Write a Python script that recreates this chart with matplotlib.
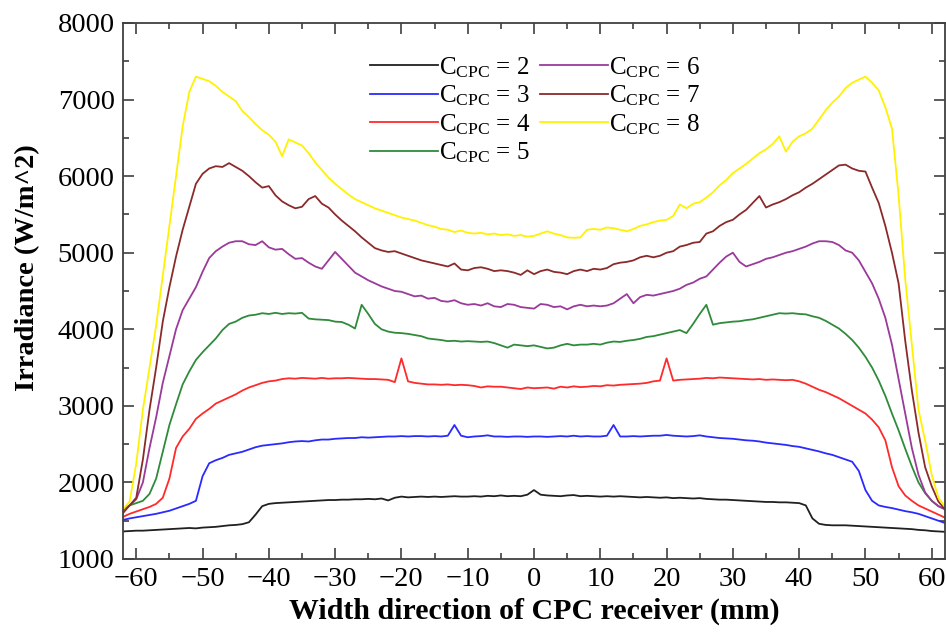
import numpy as np
import matplotlib
matplotlib.use("Agg")
import matplotlib.pyplot as plt
from matplotlib.ticker import MultipleLocator

plt.rcParams['font.family'] = ['Liberation Serif', 'DejaVu Serif']
plt.rcParams['mathtext.fontset'] = 'custom'
plt.rcParams['mathtext.rm'] = 'Liberation Serif'
plt.rcParams['mathtext.it'] = 'Liberation Serif:italic'
plt.rcParams['mathtext.bf'] = 'Liberation Serif:bold'

# width position (mm), 1 mm steps from -62 to 62
x_mm = list(range(-62, 63))

c2 = [1360,1365,1370,1370,1375,1380,1385,1390,1395,1400,
      1405,1400,1410,1415,1420,1430,1440,1445,1455,1480,
      1580,1690,1720,1730,1735,1740,1745,1750,1755,1760,
      1765,1770,1770,1775,1775,1780,1780,1785,1780,1790,
      1765,1800,1815,1805,1810,1815,1810,1815,1810,1815,
      1820,1815,1815,1820,1815,1825,1820,1830,1820,1825,
      1820,1840,1900,1840,1830,1825,1820,1830,1835,1820,
      1825,1820,1815,1820,1815,1820,1815,1810,1805,1810,
      1805,1800,1805,1795,1800,1795,1790,1795,1785,1780,
      1775,1775,1770,1765,1760,1755,1750,1745,1745,1740,
      1740,1735,1730,1700,1530,1460,1445,1440,1440,1440,
      1435,1430,1425,1420,1415,1410,1405,1400,1395,1390,
      1380,1375,1365,1360,1355]

c3 = [1510,1530,1545,1560,1575,1590,1610,1630,1660,1690,
      1720,1760,2080,2250,2290,2320,2360,2380,2400,2430,
      2460,2480,2490,2500,2510,2525,2535,2540,2535,2550,
      2560,2560,2570,2575,2580,2580,2590,2585,2590,2595,
      2600,2600,2605,2600,2605,2605,2600,2605,2600,2610,
      2750,2610,2590,2600,2605,2615,2600,2600,2595,2600,
      2600,2595,2600,2600,2595,2600,2605,2600,2610,2600,
      2605,2600,2600,2610,2750,2600,2600,2605,2600,2605,
      2610,2610,2620,2610,2605,2600,2605,2615,2600,2590,
      2580,2575,2570,2560,2550,2545,2535,2520,2510,2500,
      2490,2475,2465,2445,2425,2405,2380,2360,2330,2300,
      2270,2150,1900,1760,1700,1680,1665,1645,1625,1610,
      1590,1560,1530,1500,1470]

c4 = [1550,1590,1620,1650,1680,1720,1800,2050,2450,2600,
      2700,2830,2900,2960,3030,3070,3110,3150,3200,3240,
      3270,3300,3320,3330,3350,3360,3355,3365,3360,3355,
      3365,3355,3360,3360,3365,3360,3355,3350,3350,3345,
      3340,3310,3620,3320,3300,3290,3280,3280,3275,3280,
      3270,3275,3270,3260,3240,3255,3250,3250,3240,3230,
      3220,3240,3230,3235,3240,3225,3250,3240,3255,3245,
      3250,3260,3255,3270,3265,3275,3280,3285,3290,3300,
      3320,3330,3620,3330,3340,3345,3350,3355,3365,3360,
      3370,3365,3360,3355,3350,3345,3350,3340,3345,3340,
      3335,3340,3320,3290,3250,3210,3180,3140,3100,3050,
      3000,2950,2900,2820,2720,2550,2200,1950,1830,1760,
      1700,1660,1620,1580,1540]

c5 = [1640,1700,1730,1760,1850,2050,2400,2750,3020,3280,
      3450,3600,3700,3790,3880,3990,4070,4100,4150,4180,
      4190,4210,4200,4215,4200,4210,4205,4215,4140,4130,
      4125,4120,4100,4095,4060,4010,4320,4200,4070,4000,
      3970,3955,3950,3940,3925,3910,3880,3870,3860,3845,
      3850,3840,3845,3840,3835,3840,3820,3790,3760,3800,
      3790,3780,3790,3770,3750,3760,3790,3810,3790,3800,
      3800,3810,3800,3825,3840,3835,3850,3860,3875,3900,
      3910,3930,3950,3970,3990,3950,4070,4200,4320,4060,
      4080,4090,4100,4105,4120,4130,4150,4170,4190,4210,
      4205,4210,4200,4195,4170,4150,4110,4060,4010,3940,
      3860,3760,3640,3500,3330,3130,2900,2680,2440,2210,
      2000,1860,1760,1690,1650]

c6 = [1640,1700,1780,2000,2450,2850,3300,3650,4000,4250,
      4400,4550,4750,4930,5020,5080,5130,5150,5150,5110,
      5100,5150,5070,5040,5050,4980,4920,4930,4870,4820,
      4790,4900,5010,4920,4830,4740,4690,4640,4600,4560,
      4530,4500,4490,4460,4430,4440,4400,4410,4370,4360,
      4380,4340,4320,4330,4310,4340,4300,4290,4330,4320,
      4290,4280,4270,4330,4320,4290,4300,4260,4300,4320,
      4300,4310,4300,4310,4340,4400,4460,4340,4420,4450,
      4440,4460,4480,4500,4530,4580,4610,4660,4690,4780,
      4870,4950,5000,4880,4820,4850,4880,4920,4940,4970,
      5000,5020,5050,5080,5120,5150,5150,5140,5100,5030,
      5000,4900,4750,4600,4400,4150,3800,3350,2900,2450,
      2100,1870,1760,1690,1650]

c7 = [1600,1700,1800,2300,2950,3500,4100,4550,4950,5300,
      5600,5900,6030,6100,6130,6120,6170,6120,6070,6000,
      5920,5850,5870,5750,5670,5620,5580,5600,5700,5740,
      5640,5590,5500,5420,5350,5280,5200,5130,5060,5030,
      5010,5020,4990,4960,4930,4900,4880,4860,4840,4820,
      4860,4780,4770,4800,4810,4790,4760,4770,4760,4740,
      4710,4770,4720,4760,4780,4750,4740,4720,4760,4780,
      4760,4790,4780,4800,4850,4870,4880,4900,4940,4960,
      4940,4960,5000,5020,5080,5100,5130,5140,5250,5280,
      5350,5400,5430,5500,5560,5650,5740,5590,5630,5660,
      5700,5750,5790,5850,5900,5960,6020,6080,6140,6150,
      6100,6070,6060,5850,5650,5350,5000,4600,3850,3200,
      2650,2200,1950,1750,1650]

c8 = [1650,1750,2250,2950,3500,4050,4700,5350,6000,6650,
      7100,7300,7270,7240,7180,7100,7040,6980,6850,6770,
      6680,6600,6540,6450,6260,6480,6440,6400,6300,6180,
      6080,5980,5900,5830,5760,5700,5660,5620,5580,5550,
      5520,5490,5460,5440,5420,5390,5360,5340,5310,5300,
      5270,5290,5260,5250,5260,5240,5250,5230,5240,5220,
      5230,5210,5220,5250,5280,5250,5230,5200,5195,5200,
      5300,5310,5300,5330,5320,5300,5280,5310,5350,5370,
      5400,5420,5430,5480,5630,5580,5640,5660,5720,5790,
      5880,5950,6040,6100,6160,6230,6300,6350,6420,6520,
      6320,6450,6520,6560,6620,6740,6860,6960,7040,7150,
      7220,7260,7300,7220,7120,6900,6620,5750,4650,3800,
      2950,2550,2100,1800,1680]

series = [c2, c3, c4, c5, c6, c7, c8]
labels = [r'$\mathrm{C_{CPC}}$ = %d' % k for k in range(2, 9)]
colors = ['#202020', '#2a2aff', '#ff2a2a', '#2e8b3a', '#9a3a9a', '#8b2a2a', '#fff200']

fig = plt.figure(figsize=(9.46, 6.35), dpi=100)
ax = fig.add_axes([123/946, (635-559)/635, (945-123)/946, (559-23)/635])

handles = []
for y, c, lab in zip(series, colors, labels):
    h, = ax.plot(x_mm, y, color=c, lw=1.3, label=lab)
    handles.append(h)

ax.set_xlim(-62, 62)
ax.set_ylim(1000, 8000)
ax.xaxis.set_major_locator(MultipleLocator(10))
ax.xaxis.set_minor_locator(MultipleLocator(5))
ax.yaxis.set_major_locator(MultipleLocator(1000))
ax.yaxis.set_minor_locator(MultipleLocator(500))
ax.tick_params(which='both', direction='in', top=True, right=True,
               color='#404040', width=1.2)
ax.tick_params(which='major', length=8, labelsize=20.5, pad=6)
ax.tick_params(which='minor', length=4)
for s in ax.spines.values():
    s.set_color('#404040')
    s.set_linewidth(1.3)

ax.set_xlabel('Width direction of CPC receiver (mm)', fontsize=21.5,
              fontweight='bold', labelpad=4)
ax.set_ylabel('Irradiance (W/m^2)', fontsize=20.5, fontweight='bold')
ax.yaxis.set_label_coords(-0.101, 0.543)

leg = ax.legend(handles=handles, ncol=2, frameon=False, fontsize=18,
                loc='upper left', bbox_to_anchor=(370/946, 1-55/635),
                bbox_transform=fig.transFigure, borderpad=0,
                borderaxespad=0, handlelength=2.7, handletextpad=0.05,
                columnspacing=0.4, labelspacing=0.16)

fig.savefig('out.png', dpi=100)
